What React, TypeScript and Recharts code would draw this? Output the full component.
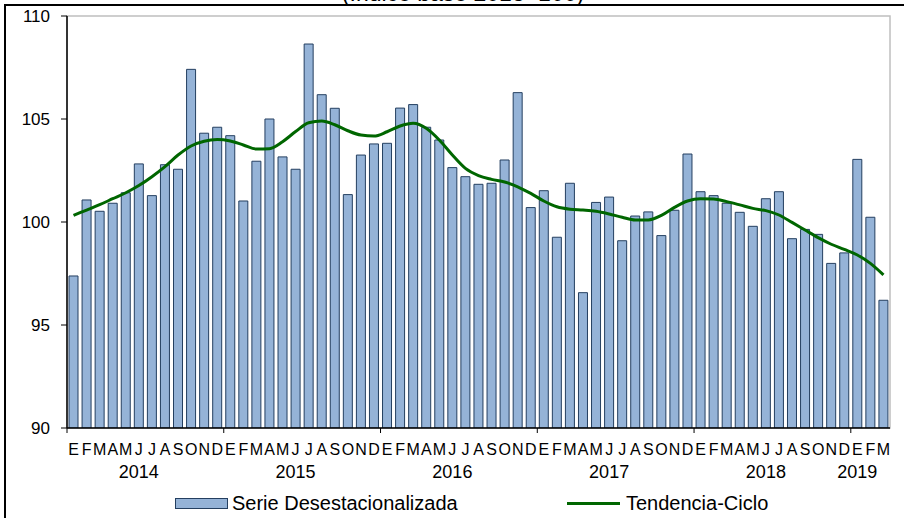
import { Bar, ComposedChart, Line, XAxis, YAxis } from 'recharts'

const FONT = '"Liberation Sans", Arial, sans-serif'

const monthLetters = ['E', 'F', 'M', 'A', 'M', 'J', 'J', 'A', 'S', 'O', 'N', 'D']
const years = ['2014', '2015', '2016', '2017', '2018', '2019']
const yTicks = [90, 95, 100, 105, 110]

// Serie desestacionalizada, ene 2014 - mar 2019
const serie = [
  97.38, 101.07, 100.52, 100.91, 101.42, 102.82, 101.28, 102.78, 102.56, 107.41, 104.31, 104.6,
  104.19, 101.02, 102.95, 105.0, 103.16, 102.56, 108.64, 106.18, 105.52, 101.33, 103.25, 103.79,
  103.82, 105.53, 105.7, 104.6, 103.98, 102.64, 102.2, 101.83, 101.88, 103.01, 106.28, 100.7,
  101.52, 99.26, 101.88, 96.57, 100.95, 101.21, 99.09, 100.29, 100.49, 99.34, 100.57, 103.3,
  101.47, 101.28, 100.91, 100.47, 99.79, 101.13, 101.47, 99.19, 99.64, 99.4, 97.99, 98.5,
  103.04, 100.23, 96.2,
]

// Tendencia-ciclo
const tendencia = [
  100.32, 100.58, 100.84, 101.13, 101.42, 101.77, 102.2, 102.69, 103.25, 103.69, 103.92, 104.0,
  103.93, 103.74, 103.54, 103.56, 103.9, 104.39, 104.82, 104.9, 104.72, 104.43, 104.22, 104.17,
  104.38, 104.66, 104.79, 104.55, 103.98, 103.25, 102.6, 102.25, 102.07, 101.94, 101.71, 101.39,
  101.02, 100.74, 100.62, 100.58, 100.52, 100.39, 100.23, 100.1, 100.1, 100.32, 100.71, 101.02,
  101.13, 101.12, 100.99, 100.83, 100.66, 100.55, 100.34, 99.98, 99.61, 99.24, 98.92, 98.67,
  98.4, 97.99, 97.43,
]

const W = 904
const H = 518
const LEFT = 67
const RIGHT = 890
const TOP = 16
const BOTTOM = 428

const data = serie.map((v, i) => ({
  cat: `${monthLetters[i % 12]}-${years[Math.floor(i / 12)]}`,
  month: i % 12,
  year: years[Math.floor(i / 12)],
  serie: v,
  tendencia: tendencia[i],
}))

const slot = (RIGHT - LEFT) / data.length

function MonthTick(props: any) {
  const { x, y, payload } = props
  const d = data[payload.index]
  const isLastYear = d.year === years[years.length - 1]
  const showYear = isLastYear ? d.month === 0 : d.month === 5
  return (
    <g>
      {d.month === 0 && (
        <line x1={x - slot / 2} x2={x - slot / 2} y1={y} y2={y + 5} stroke="#000" />
      )}
      <text x={x} y={y + 27} textAnchor="middle" fontSize={16} fontFamily={FONT} fill="#000">
        {monthLetters[d.month]}
      </text>
      {showYear && (
        <text x={x} y={y + 50} textAnchor="middle" fontSize={18} fontFamily={FONT} fill="#000">
          {d.year}
        </text>
      )}
    </g>
  )
}

export default function App() {
  return (
    <div style={{ position: 'absolute', left: 0, top: 0, width: W, height: H, background: '#fff' }}>
      <svg width={W} height={H} style={{ position: 'absolute', left: 0, top: 0 }}>
        {/* title sits above the frame and is cut by the top edge, as in the source */}
        <text x={463} y={1} textAnchor="middle" fontSize={23} fontFamily={FONT} fill="#000">
          (Índice base 2013=100)
        </text>
        <rect x={5} y={5} width={W + 20} height={H + 20} fill="none" stroke="#000" strokeWidth={2} />
        <rect
          x={LEFT}
          y={TOP}
          width={RIGHT - LEFT}
          height={BOTTOM - TOP}
          fill="none"
          stroke="#BFBFBF"
          strokeWidth={1.5}
        />
      </svg>
      <div style={{ position: 'absolute', left: 0, top: 0 }}>
        <ComposedChart
          width={W}
          height={H}
          data={data}
          margin={{ top: TOP, right: W - RIGHT, left: 0, bottom: 0 }}
        >
          <XAxis
            dataKey="cat"
            interval={0}
            height={H - BOTTOM}
            tickSize={0}
            tickMargin={0}
            axisLine={{ stroke: '#000', strokeWidth: 1.5 }}
            tick={<MonthTick />}
          />
          <YAxis
            width={LEFT}
            domain={[90, 110]}
            ticks={yTicks}
            allowDataOverflow
            tickSize={6}
            tickMargin={11}
            axisLine={{ stroke: '#000', strokeWidth: 1.5 }}
            tickLine={{ stroke: '#000' }}
            tick={{ fill: '#000', fontSize: 17, fontFamily: FONT }}
          />
          <Bar
            dataKey="serie"
            name="Serie Desestacionalizada"
            fill="#95B3D7"
            stroke="#243F60"
            strokeWidth={1}
            barSize={9}
            isAnimationActive={false}
          />
          <Line
            type="monotone"
            dataKey="tendencia"
            name="Tendencia-Ciclo"
            stroke="#006600"
            strokeWidth={3}
            dot={false}
            activeDot={false}
            isAnimationActive={false}
          />
        </ComposedChart>
      </div>
      <svg width={W} height={H} style={{ position: 'absolute', left: 0, top: 0, pointerEvents: 'none' }}>
        <rect x={175.5} y={498.5} width={52} height={10} fill="#95B3D7" stroke="#243F60" />
        <text x={232} y={510} fontSize={20} fontFamily={FONT} fill="#000">
          Serie Desestacionalizada
        </text>
        <line x1={567} x2={620} y1={503.5} y2={503.5} stroke="#006600" strokeWidth={3} />
        <text x={626} y={510} fontSize={20} fontFamily={FONT} fill="#000">
          Tendencia-Ciclo
        </text>
      </svg>
    </div>
  )
}
